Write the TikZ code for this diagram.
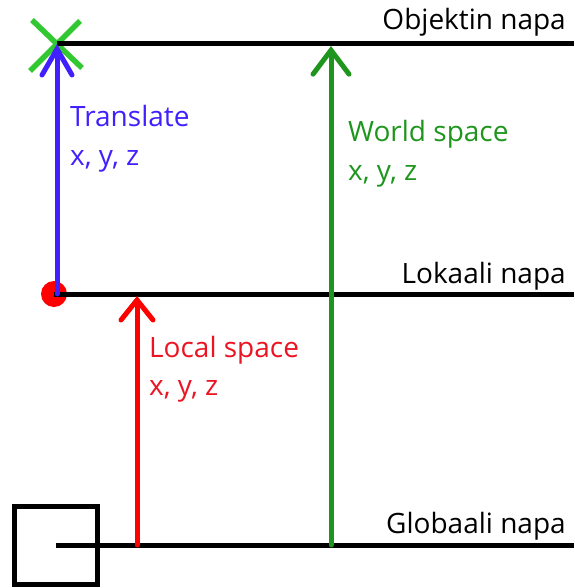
\documentclass[tikz,border=0pt]{standalone}
\usepackage{fontspec}
\setmainfont{Open Sans}
\usetikzlibrary{arrows.meta}
\definecolor{tblue}{RGB}{64,32,255}
\definecolor{tgreen}{RGB}{30,150,30}
\definecolor{xgreen}{RGB}{50,200,50}
\definecolor{tred}{RGB}{255,0,0}
\definecolor{ltred}{RGB}{235,20,35}
\tikzset{
  axisline/.style={line width=5pt, black},
  lbl/.style={inner sep=0pt, font=\fontsize{28}{34}\selectfont},
  vec/.style={line width=5pt, line cap=round},
}
\begin{document}
\begin{tikzpicture}[x=1pt,y=-1pt]
\useasboundingbox (0,0) rectangle (574,588);
% coordinates
\coordinate (oL) at (57,44);
\coordinate (oR) at (574,44);
\coordinate (lL) at (54,294);
\coordinate (lR) at (574,294);
\coordinate (gL) at (56,545);
\coordinate (gR) at (574,545);
\coordinate (bt) at (57,294);
\coordinate (rb) at (137,545);
\coordinate (rt) at (137,296);
\coordinate (gb) at (331,545);
\coordinate (gt) at (331,46);
% green X
\draw[xgreen, line width=5.5pt] (32,20) -- (82,68);
\draw[xgreen, line width=5.5pt] (80,21) -- (30,71);
% red dot
\fill[tred] (lL) circle (13);
% lines
\draw[axisline] (oL) -- (oR);
\draw[axisline] (lL) -- (lR);
\draw[axisline] (gL) -- (gR);
% box
\draw[line width=5pt] (14,506) rectangle (97,584);
% arrows
\draw[vec, tblue, -{Straight Barb[length=26pt,width=30pt,line cap=round]}] (bt) -- (oL);
\draw[vec, tred, -{Straight Barb[length=20pt,width=32pt,line cap=round]}] (rb) -- (rt);
\draw[vec, tgreen, -{Straight Barb[length=24pt,width=36pt,line cap=round]}] (gb) -- (gt);
% labels
\node[lbl, anchor=base east] (objn) at (566,30) {Objektin napa};
\node[lbl, anchor=base east] (lokn) at (566,283) {Lokaali napa};
\node[lbl, anchor=base east] (glon) at (566,533) {Globaali napa};
\node[lbl, tblue, anchor=base west] (tr1) at (70,127) {Translate};
\node[lbl, tblue, anchor=base west] (tr2) at (70,165) {x, y, z};
\node[lbl, tgreen, anchor=base west] (ws1) at (348,142) {World space};
\node[lbl, tgreen, anchor=base west] (ws2) at (348,180) {x, y, z};
\node[lbl, ltred, anchor=base west] (ls1) at (149,357) {Local space};
\node[lbl, ltred, anchor=base west] (ls2) at (149,395) {x, y, z};
\end{tikzpicture}
\end{document}
